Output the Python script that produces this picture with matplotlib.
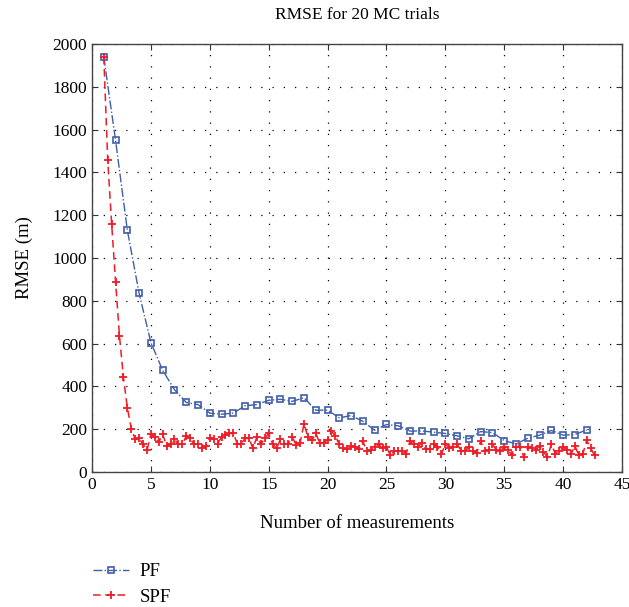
import matplotlib
matplotlib.use("Agg")
import matplotlib.pyplot as plt
import numpy as np

plt.rcParams['font.family'] = ['Liberation Serif', 'DejaVu Serif']

# PF: one value per measurement (1..42)
pf_x = list(range(1, 43))
pf_y = [1940, 1550, 1130, 835, 605, 475, 385, 325, 315, 275,
        270, 275, 310, 315, 335, 340, 330, 347, 289, 289,
        253, 264, 237, 195, 222, 216, 191, 192, 186, 180,
        169, 155, 189, 184, 147, 131, 158, 172, 194, 172,
        175, 197]

# SPF: three values per measurement, x = 1, 1.33, ..., 42.67
spf_y = [1940, 1460, 1160, 890, 636, 442, 301, 203, 152, 157,
         130, 102, 177, 164, 138, 177, 122, 133, 152, 130,
         130, 167, 157, 130, 130, 113, 122, 160, 152, 133,
         164, 172, 180, 180, 133, 133, 157, 157, 110, 164,
         130, 157, 180, 133, 110, 152, 130, 133, 164, 126,
         136, 225, 164, 148, 180, 136, 136, 150, 191, 167,
         129, 110, 106, 121, 117, 106, 144, 97, 102, 117,
         130, 110, 117, 78, 97, 97, 97, 86, 144, 129,
         117, 136, 106, 106, 129, 117, 83, 130, 113, 117,
         130, 100, 100, 117, 100, 91, 144, 100, 102, 130,
         102, 97, 117, 102, 78, 117, 117, 70, 117, 113,
         102, 122, 94, 70, 130, 86, 97, 117, 102, 83,
         122, 78, 83, 148, 113, 78]
spf_x = [1 + k / 3 for k in range(len(spf_y))]

x_ticks = list(range(0, 50, 5))
y_ticks = list(range(0, 2200, 200))

pf_color = '#3f5fa8'
spf_color = '#ee1c25'

fig = plt.figure(figsize=(6.29, 6.07), dpi=100)
ax = fig.add_axes([92/629, 1 - 472/607, (622-92)/629, (472-44)/607])

ax.plot(pf_x, pf_y, linestyle='-.', color=pf_color, marker='s', markersize=4.5,
        markerfacecolor='none', markeredgecolor=pf_color, markeredgewidth=1.2,
        linewidth=1.0, label='PF')
ax.plot(spf_x, spf_y, linestyle='--', color=spf_color, marker='+', markersize=6,
        markeredgewidth=1.3, linewidth=1.1, dashes=(5, 3), label='SPF')

ax.set_xlim(0, 45)
ax.set_ylim(0, 2000)
ax.set_xticks(x_ticks)
ax.set_yticks(y_ticks)
ax.tick_params(direction='in', top=True, right=True, labelsize=12.5, length=4, color='#333333')
ax.grid(True, linestyle=(0, (1, 8)), color='black', linewidth=0.9)
for s in ax.spines.values():
    s.set_color('#444444')
    s.set_linewidth(1.0)

ax.set_title('RMSE for 20 MC trials', fontsize=12.5, pad=18)
ax.set_xlabel('Number of measurements', fontsize=13.5, labelpad=16)
ax.set_ylabel('RMSE (m)', fontsize=13.5, labelpad=14)

leg = fig.legend(loc='upper left', bbox_to_anchor=(93/629, 1 - 563/607), frameon=False,
                 fontsize=13.5, handlelength=1.9, handletextpad=0.6,
                 borderpad=0, borderaxespad=0, labelspacing=0.45)

fig.savefig('out.png', dpi=100)
